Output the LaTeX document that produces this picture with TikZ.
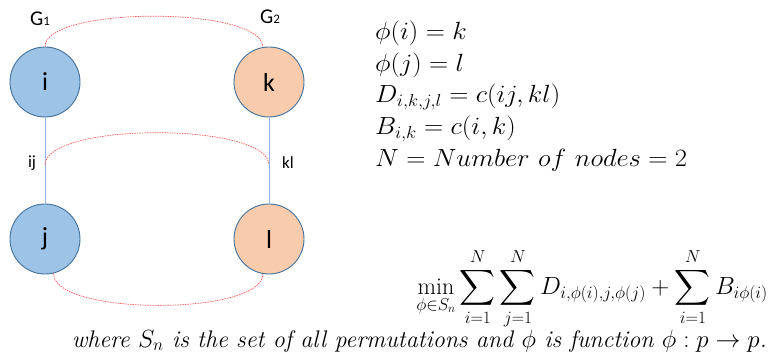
\documentclass[tikz,border=0pt]{standalone}
\usepackage{amsmath}
\usepackage{exscale}
\usepackage{graphicx}
\usepackage{fontspec}
\newfontfamily\calib{Carlito}
\definecolor{nodeblue}{HTML}{9DC3E6}
\definecolor{nodeorange}{HTML}{F8CBAD}
\definecolor{rim}{HTML}{41719C}
\definecolor{edgeblue}{HTML}{8FB4E3}
\definecolor{matchred}{HTML}{FF5A5A}
\newcommand{\wideq}[1]{\scalebox{1.07}[1]{#1}}
\tikzset{
  vtx/.style={circle, draw=rim, line width=0.9pt, minimum size=70pt, inner sep=0pt,
    font=\calib\fontsize{26}{26}\selectfont},
  bluev/.style={vtx, fill=nodeblue},
  orangev/.style={vtx, fill=nodeorange},
  gedge/.style={draw=edgeblue, line width=0.8pt},
  match/.style={draw=matchred, line width=0.7pt, dash pattern=on 1.5pt off 1pt},
  lbl/.style={font=\calib\fontsize{17}{17}\selectfont, inner sep=0pt},
  glbl/.style={font=\calib\fontsize{21}{21}\selectfont, inner sep=0pt},
  eqn/.style={anchor=base west, inner sep=0pt, font=\fontsize{26.5}{26.5}\selectfont},
}
\begin{document}
\begin{tikzpicture}[x=1pt,y=-1pt]
\useasboundingbox (0,0) rectangle (773,363);
\node[bluev] (i) at (45,82) {i};
\node[orangev] (k) at (269,82) {k};
\node[bluev] (j) at (45,239) {j};
\node[orangev] (l) at (269,239) {l};
\node[glbl] (g1) at (40,19) {G{\fontsize{13}{13}\selectfont 1}};
\node[glbl] (g2) at (270,17) {G{\fontsize{13}{13}\selectfont 2}};
\draw[gedge] (i) -- (j) coordinate[pos=0.55] (ijm);
\draw[gedge] (k) -- (l) coordinate[pos=0.55] (klm);
\node[lbl] (ij) at (32,163) {ij};
\node[lbl] (kl) at (288,163) {kl};
\draw[match] (i.north) .. controls (45,6) and (263,6) .. (k.100);
\draw[match] (ijm) .. controls (46,122) and (268,122) .. (klm);
\draw[match] (j.-76) .. controls (53,316) and (263,316) .. (l.-100);
\node[eqn] (e1) at (375,40) {\wideq{$\phi(i)=k$}};
\node[eqn] (e2) at (375,72) {\wideq{$\phi(j)=l$}};
\node[eqn] (e3) at (375,103) {\wideq{$D_{i,k,j,l}=c(ij,kl)$}};
\node[eqn] (e4) at (375,135) {\wideq{$B_{i,k}=c(i,k)$}};
\node[eqn] (e5) at (375,167) {\wideq{$N=Number\ of\ nodes=2$}};
\node[anchor=base east, inner sep=0pt, font=\fontsize{24}{24}\selectfont] (obj) at (768,294)
  {$\displaystyle \min_{\phi\in S_n}\sum_{i=1}^{N}\sum_{j=1}^{N} D_{i,\phi(i),j,\phi(j)}+\sum_{i=1}^{N}B_{i\phi(i)}$};
\node[anchor=base east, inner sep=0pt, font=\fontsize{24}{24}\selectfont] (txt) at (767,347)
  {\itshape where $S_n$ is the set of all permutations and $\phi$ is function $\phi : p \rightarrow p$.};
\end{tikzpicture}
\end{document}
